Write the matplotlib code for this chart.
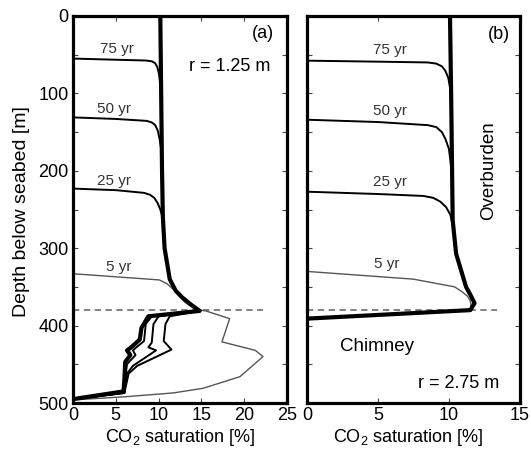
import matplotlib
matplotlib.use("Agg")
import matplotlib.pyplot as plt
from matplotlib.ticker import MultipleLocator

plt.rcParams['font.family'] = ['Liberation Sans', 'DejaVu Sans']
plt.rcParams['mathtext.fontset'] = 'custom'
plt.rcParams['mathtext.rm'] = 'Liberation Sans'
plt.rcParams['mathtext.it'] = 'Liberation Sans:italic'

# ---------------- Panel (a): r = 1.25 m ----------------
# thick line (final profile)
a_thick_sat = [10.2, 10.3, 10.4, 10.5, 10.7, 11.3, 12.0, 12.8, 13.8, 14.8,
               8.8, 8.0, 7.8, 6.7, 6.3, 6.7, 6.1, 6.0, 5.9, 0.0]
a_thick_dep = [0, 100, 200, 260, 300, 340, 355, 364, 373, 381,
               388, 403, 418, 429, 432, 438, 447, 470, 485, 495]

a75_sat = [0.0, 5.0, 8.5, 9.2, 9.6, 9.85, 10.05, 10.2, 10.3, 10.4, 10.5, 10.7, 11.3, 12.0, 12.8, 13.8, 14.8,
           9.2, 8.5, 8.3, 7.4, 7.0, 7.3, 6.3, 6.1, 6.0, 0.0]
a75_dep = [55, 56.5, 57.5, 58.5, 61, 66, 75, 88, 100, 200, 260, 300, 340, 355, 364, 373, 381,
           388, 398, 420, 428, 432, 438, 450, 470, 487, 495]

a50_sat = [0.0, 5.0, 8.6, 9.2, 9.6, 9.9, 10.1, 10.3, 10.4, 10.5, 10.7, 11.3, 12.0, 12.8, 13.8, 14.8,
           10.0, 9.4, 9.2, 8.8, 9.7, 7.0, 6.3, 6.0, 0.0]
a50_dep = [131, 133, 135.5, 137.5, 141, 148, 158, 172, 200, 260, 300, 340, 355, 364, 373, 381,
           388, 398, 422, 428, 432, 452, 462, 487, 495]

a25_sat = [0.0, 5.0, 8.3, 9.0, 9.5, 9.9, 10.2, 10.5, 10.7, 11.3, 12.0, 12.8, 13.8, 14.8,
           11.3, 10.8, 10.6, 11.5, 7.5, 6.5, 6.0, 0.0]
a25_dep = [223, 225, 228.5, 231, 235, 242, 250, 262, 300, 340, 355, 364, 373, 381,
           388, 398, 420, 431, 452, 462, 487, 495]

a5_sat = [0.0, 10.1, 11.0, 11.9, 13.1, 14.3, 15.5, 18.3, 17.4, 21.3, 22.2, 19.5, 15.2, 11.7, 6.0, 0.0]
a5_dep = [333, 341, 346, 355, 370, 379, 381, 391, 421, 432, 440, 466, 481, 487, 492, 496]

# ---------------- Panel (b): r = 2.75 m ----------------
b_thick_sat = [10.07, 10.15, 10.26, 10.5, 11.2, 11.5, 11.8, 11.5, 0.0]
b_thick_dep = [0, 100, 264, 307, 350, 360, 371, 380, 391]

b75_sat = [0.0, 5.0, 8.5, 9.1, 9.5, 9.75, 9.95, 10.1]
b75_dep = [57.7, 59, 60, 61.5, 65, 71, 80, 95]
b50_sat = [0.0, 5.0, 8.5, 9.1, 9.5, 9.75, 10.0, 10.15]
b50_dep = [134, 137, 141, 143.5, 150, 159, 172, 195]
b25_sat = [0.0, 5.0, 8.2, 8.9, 9.4, 9.8, 10.1, 10.26]
b25_dep = [227, 230, 232.5, 235, 240, 247, 257, 270]
b5_sat = [0.0, 7.5, 10.4, 10.9, 11.3, 11.5, 11.6, 0.0]
b5_dep = [330, 340, 350, 356, 362, 368, 380, 390]

interface_depth = 380
a_xticks = [0, 5, 10, 15, 20, 25]
b_xticks = [0, 5, 10, 15]
yticks = [0, 100, 200, 300, 400, 500]

fig = plt.figure(figsize=(5.31, 4.51), dpi=100)
ax_a = fig.add_axes([73/531, 48/451, 214/531, 387/451])
ax_b = fig.add_axes([307/531, 48/451, 213/531, 387/451])

thin_c = 'black'
gray_c = '#555555'

for ax in (ax_a, ax_b):
    ax.set_ylim(500, 0)
    ax.yaxis.set_major_locator(MultipleLocator(100))
    ax.yaxis.set_minor_locator(MultipleLocator(50))
    ax.tick_params(which='both', direction='in', top=True, right=True,
                   length=3.5, width=0.8, labelsize=13, color='#444444')
    ax.tick_params(axis='x', pad=3)
    ax.tick_params(axis='y', pad=3)
    for s in ax.spines.values():
        s.set_linewidth(2.3)
    ax.axhline(interface_depth, xmin=0, xmax=0.89, color='#777777', lw=1.3,
               dashes=(3.5, 2.5), zorder=1)

# panel a
ax_a.set_xlim(0, 25)
ax_a.set_xticks(a_xticks)
ax_a.set_yticks(yticks)
ax_a.plot(a5_sat, a5_dep, color=gray_c, lw=1.0, zorder=2)
ax_a.plot(a25_sat, a25_dep, color=thin_c, lw=1.4, zorder=3)
ax_a.plot(a50_sat, a50_dep, color=thin_c, lw=1.4, zorder=3)
ax_a.plot(a75_sat, a75_dep, color=thin_c, lw=1.4, zorder=3)
ax_a.plot(a_thick_sat, a_thick_dep, color='black', lw=3.0, zorder=4)

lab_kw = dict(fontsize=11, color='#333333', ha='center', va='center')
ax_a.text(5.1, 42, '75 yr', **lab_kw)
ax_a.text(4.8, 120, '50 yr', **lab_kw)
ax_a.text(4.8, 213, '25 yr', **lab_kw)
ax_a.text(5.4, 324, '5 yr', **lab_kw)
ax_a.text(22.2, 22, '(a)', fontsize=13, ha='center', va='center')
ax_a.text(18.3, 65, 'r = 1.25 m', fontsize=13, ha='center', va='center')

# panel b
ax_b.set_xlim(0, 15)
ax_b.set_xticks(b_xticks)
ax_b.set_yticks(yticks)
ax_b.set_yticklabels([])
ax_b.plot(b5_sat, b5_dep, color=gray_c, lw=1.0, zorder=2)
ax_b.plot(b25_sat, b25_dep, color=thin_c, lw=1.4, zorder=3)
ax_b.plot(b50_sat, b50_dep, color=thin_c, lw=1.4, zorder=3)
ax_b.plot(b75_sat, b75_dep, color=thin_c, lw=1.4, zorder=3)
ax_b.plot(b_thick_sat, b_thick_dep, color='black', lw=3.0, zorder=4)

ax_b.text(5.85, 44, '75 yr', **lab_kw)
ax_b.text(5.85, 123, '50 yr', **lab_kw)
ax_b.text(5.85, 215, '25 yr', **lab_kw)
ax_b.text(5.6, 320, '5 yr', **lab_kw)
ax_b.text(13.5, 24, '(b)', fontsize=13, ha='center', va='center')
ax_b.text(12.8, 200, 'Overburden', fontsize=13.5, rotation=90, ha='center', va='center')
ax_b.text(4.9, 427, 'Chimney', fontsize=13.5, ha='center', va='center')
ax_b.text(10.65, 475, 'r = 2.75 m', fontsize=13, ha='center', va='center')

xl = 'CO$_\\mathregular{2}$ saturation [%]'
fig.text(180/531, 1 - 437/451, xl, fontsize=13, ha='center', va='center')
fig.text(408/531, 1 - 437/451, xl, fontsize=13, ha='center', va='center')
fig.text(22/531, 1 - 212/451, 'Depth below seabed [m]', fontsize=14,
         rotation=90, ha='center', va='center')

fig.savefig('out.png', dpi=100)
